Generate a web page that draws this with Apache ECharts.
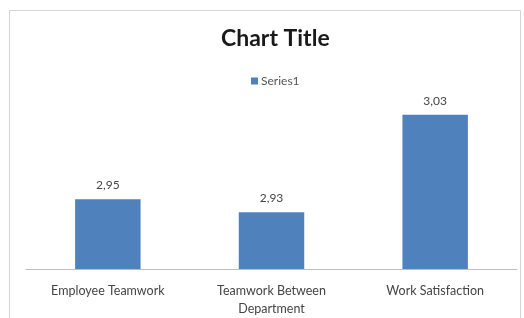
<!DOCTYPE html>
<html>
<head>
<meta charset="utf-8">
<script src="https://cdn.jsdelivr.net/npm/echarts@6/dist/echarts.min.js"></script>
<style>
  html, body { margin: 0; padding: 0; background: #fff; }
  #chart { width: 524px; height: 318px; }
</style>
</head>
<body>
<div id="chart"></div>
<script>
// data (labels show two decimals with a comma)
var categories = ['Employee Teamwork', 'Teamwork Between\nDepartment', 'Work Satisfaction'];
var series1 = [2.947, 2.934, 3.032];
var seriesName = 'Series1';

var chart = echarts.init(document.getElementById('chart'));

var option = {
    backgroundColor: '#fff',
    animation: false,
    textStyle: { fontFamily: 'Lato, sans-serif' },
    title: {
        text: 'Chart Title',
        left: 216,
        top: 22,
        textStyle: { fontFamily: 'Lato', fontWeight: 'bold', fontSize: 23, color: '#1a1a1a' }
    },
    legend: {
        data: [seriesName],
        left: 246,
        top: 70,
        itemWidth: 7,
        itemHeight: 7,
        itemGap: 4,
        icon: 'rect',
        textStyle: { fontSize: 12, color: '#555', padding: [0, 0, 0, -2] }
    },
    graphic: [{
        type: 'rect',
        shape: { x: 9.5, y: 10.5, width: 511, height: 330 },
        style: { fill: 'none', stroke: '#d4d4d4', lineWidth: 1 },
        silent: true
    }],
    grid: { left: 26, right: 7, top: 70, bottom: 48 },
    xAxis: {
        type: 'category',
        data: categories,
        axisLine: { lineStyle: { color: '#bdbdbd', width: 1 } },
        axisTick: { show: false },
        axisLabel: { color: '#444', fontSize: 12.5, margin: 13, lineHeight: 18, interval: 0 }
    },
    yAxis: {
        type: 'value',
        min: 2.877,
        max: 3.077,
        show: false,
        splitLine: { show: false }
    },
    series: [{
        name: seriesName,
        type: 'bar',
        data: series1,
        barWidth: '40%',
        itemStyle: { color: '#4f81bd' },
        label: {
            show: true,
            position: 'top',
            distance: 8,
            color: '#444',
            fontSize: 12,
            formatter: function (p) { return p.value.toFixed(2).replace('.', ','); }
        }
    }]
};

chart.setOption(option);
</script>
</body>
</html>
